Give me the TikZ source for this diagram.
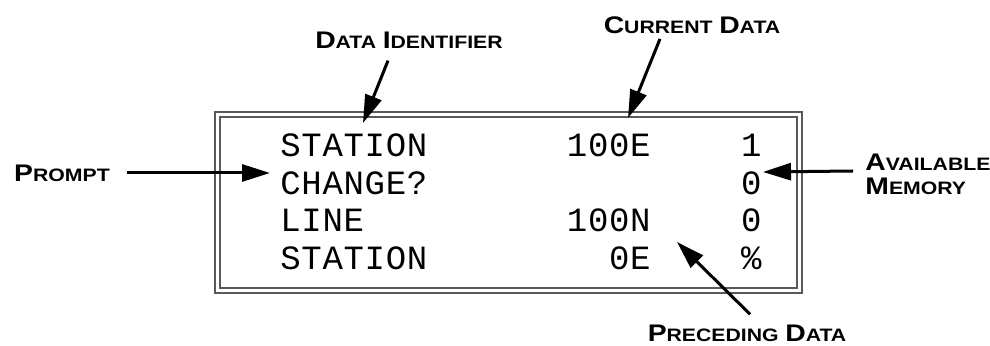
\documentclass[tikz,border=0pt]{standalone}
\usepackage{fontspec}
\usetikzlibrary{arrows.meta}
\newfontfamily\lcdfont{Liberation Mono}[LetterSpace=2]
\newfontfamily\lblfont{Liberation Sans}[FakeStretch=1.18]
\newcommand\capword[2]{{\fontsize{12}{14}\selectfont #1}{\fontsize{9}{14}\selectfont #2}}

\begin{document}
\begin{tikzpicture}[x=0.5pt,y=-0.5pt]
	\tikzstyle{lbl}=[inner sep=0pt, font=\lblfont\bfseries]
	\tikzstyle{lcd}=[inner sep=0pt, font=\lcdfont\fontsize{17}{19}\selectfont]
	\tikzstyle{ptr}=[line width=1.5pt, -{Triangle[length=14pt,width=8.5pt]}]
	\tikzstyle{frame}=[draw=black!65, line width=0.8pt]
	\useasboundingbox (0,0) rectangle (990,346);
	\draw[frame] (215,112) rectangle (802,293);
	\draw[frame] (220,117) rectangle (797,288);
	\foreach \y/\a/\b/\c in {157/STATION/100E/1, 194.5/CHANGE?//0, 232/LINE/100N/0, 269.5/STATION/0E/\%}{
		\node[lcd, anchor=base west] at (280,\y) {\a};
		\node[lcd, anchor=base east] at (651,\y) {\b};
		\node[lcd, anchor=base east] at (762,\y) {\c};
	}
	\node[lbl] (prompt) at (62,173) {\capword{P}{ROMPT}};
	\node[lbl] (dataid) at (409,40) {\capword{D}{ATA} \capword{I}{DENTIFIER}};
	\node[lbl] (current) at (692,25) {\capword{C}{URRENT} \capword{D}{ATA}};
	\node[lbl, anchor=west, align=left] (avail) at (865,174) {\capword{A}{VAILABLE}\\\capword{M}{EMORY}};
	\node[lbl] (preceding) at (747,333) {\capword{P}{RECEDING} \capword{D}{ATA}};
	\coordinate (promptTip) at (270,173);
	\coordinate (idTip) at (363,123);
	\coordinate (currentTip) at (628,118);
	\coordinate (availTip) at (763,172);
	\coordinate (precedingTip) at (677,242);
	\draw[ptr] ([xshift=8.5pt]prompt.east) -- (promptTip);
	\draw[ptr] ([xshift=-10.5pt,yshift=-6pt]dataid.south) -- (idTip);
	\draw[ptr] ([xshift=-16pt,yshift=-2.5pt]current.south) -- (currentTip);
	\draw[ptr] ([xshift=-6pt,yshift=1.5pt]avail.west) -- (availTip);
	\draw[ptr] ([xshift=1.5pt,yshift=5pt]preceding.north) -- (precedingTip);
\end{tikzpicture}
\end{document}
